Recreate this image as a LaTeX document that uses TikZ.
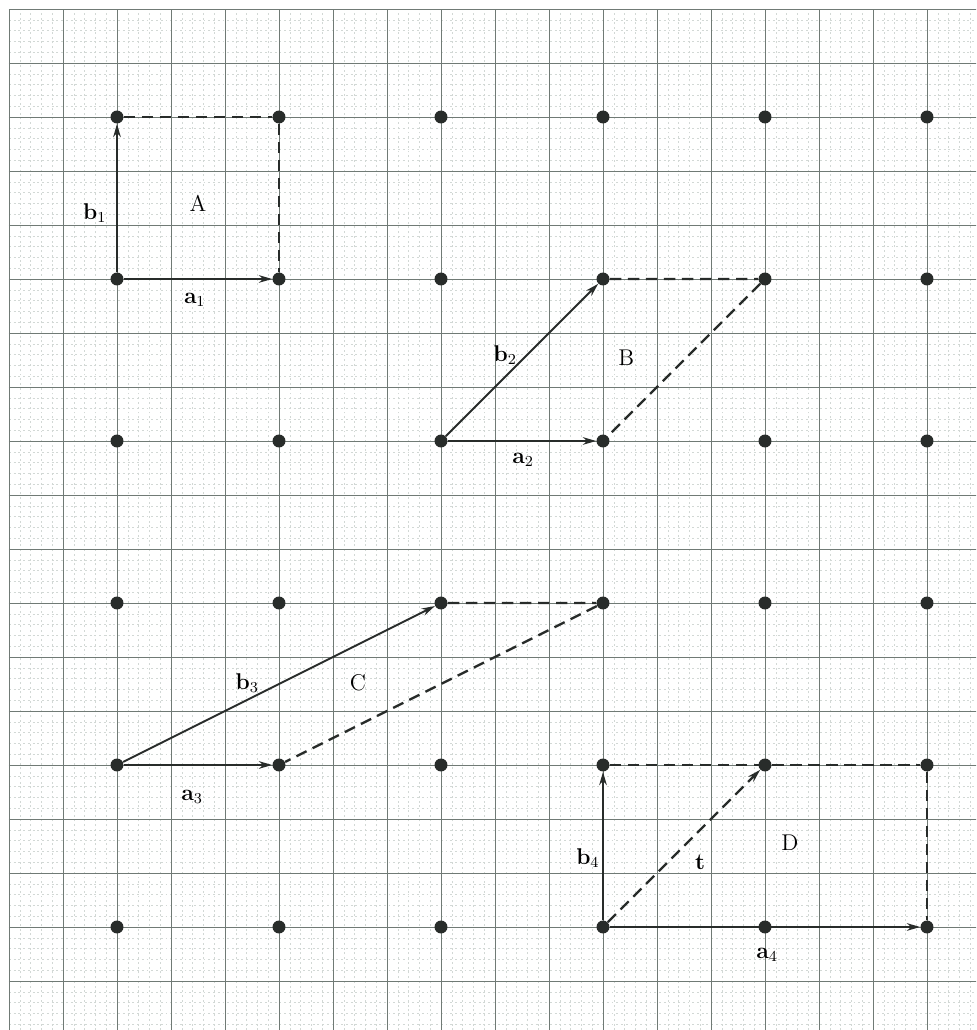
\documentclass[tikz,border=0pt]{standalone}
\usepackage{amsmath}
\usepackage{tikz}
\usetikzlibrary{arrows.meta,positioning}
\definecolor{gridmajor}{RGB}{112,122,117}
\definecolor{gridminor}{RGB}{210,216,213}
\definecolor{dotcol}{RGB}{40,44,42}

\begin{document}
\begin{tikzpicture}[
font=\fontsize{12}{14}\selectfont,
dot/.style={circle,fill=dotcol,inner sep=0pt,minimum size=0.24cm},
vec/.style={->,>={Stealth[length=7pt,width=4pt]},line width=1pt,color=dotcol},
edge/.style={dash pattern=on 6pt off 3.5pt,line width=1.2pt,color=dotcol},
lbl/.style={inner sep=1pt},
x=1cm,y=1cm]
\useasboundingbox (-2.1667,-1.9074) rectangle (15.9074,17.1667);
\fill[white] (-2.1667,-1.9074) rectangle (15.9074,17.1667);

% Graph paper
\begin{scope}
\clip (-2,-1.9074) rectangle (15.9074,17);
\draw[gridminor,line width=0.3pt,dash pattern=on 1pt off 1.5pt]
  (-2,-2) grid[step=0.2] (16,17);
\draw[gridmajor,line width=0.5pt] (-2,-2) grid[step=1] (16,17);
\end{scope}

% Lattice points
\foreach \i in {0,...,5}
  \foreach \j in {0,...,5}
    \node[dot] (p-\i-\j) at (3*\i,3*\j) {};

% A
\draw[vec] (p-0-4) -- (p-1-4);
\draw[vec] (p-0-4) -- (p-0-5);
\draw[edge] (p-0-5) -- (p-1-5) -- (p-1-4);
\node[lbl] (b1) at (-0.41,13.22) {$\mathbf{b}_1$};
\node[lbl] (a1) at (1.44,11.61) {$\mathbf{a}_1$};
\node[lbl] (A) at (1.5,13.4) {A};

% B
\draw[vec] (p-2-3) -- (p-3-3);
\draw[vec] (p-2-3) -- (p-3-4);
\draw[edge] (p-3-4) -- (p-4-4) -- (p-3-3);
\node[lbl] (b2) at (7.19,10.59) {$\mathbf{b}_2$};
\node[lbl] (a2) at (7.52,8.65) {$\mathbf{a}_2$};
\node[lbl] (B) at (9.43,10.54) {B};

% C
\draw[vec] (p-0-1) -- (p-1-1);
\draw[vec] (p-0-1) -- (p-2-2);
\draw[edge] (p-2-2) -- (p-3-2) -- (p-1-1);
\node[lbl] (b3) at (2.41,4.52) {$\mathbf{b}_3$};
\node[lbl] (a3) at (1.39,2.41) {$\mathbf{a}_3$};
\node[lbl] (C) at (4.46,4.52) {C};

% D
\draw[vec] (p-3-0) -- (p-5-0);
\draw[vec] (p-3-0) -- (p-3-1);
\draw[edge] (p-3-1) -- (p-5-1) -- (p-5-0);
\draw[edge,->,>={Stealth[length=7pt,width=4pt]}] (p-3-0) -- (p-4-1);
\node[lbl] (b4) at (8.72,1.28) {$\mathbf{b}_4$};
\node[lbl] (t) at (10.8,1.2) {$\mathbf{t}$};
\node[lbl] (D) at (12.46,1.56) {D};
\node[lbl] (a4) at (12.04,-0.52) {$\mathbf{a}_4$};

\end{tikzpicture}
\end{document}
